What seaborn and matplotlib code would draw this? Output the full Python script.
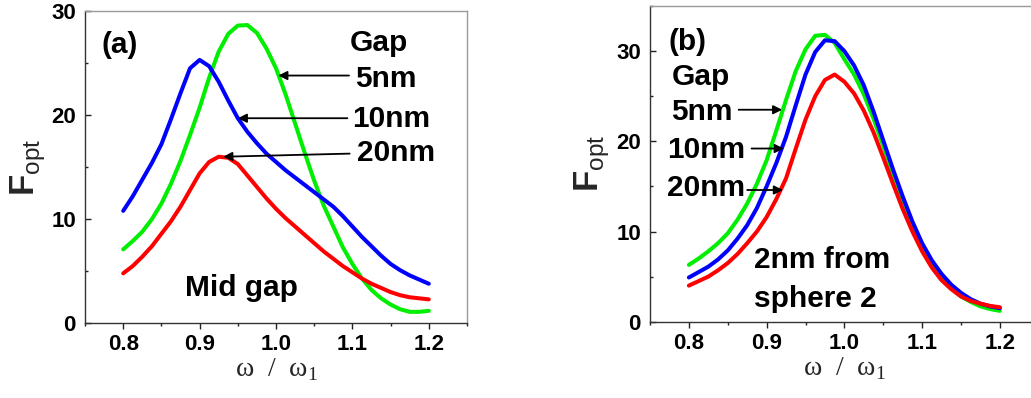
import numpy as np
import pandas as pd
import matplotlib
matplotlib.use("Agg")
import matplotlib.pyplot as plt
from matplotlib.ticker import MultipleLocator, FormatStrFormatter
import seaborn as sns

# ---------------- data ----------------
gaps = ["5nm", "10nm", "20nm"]

# omega / omega_1 sample positions (read every 0.0125)
w_grid = [0.8000, 0.8125, 0.8250, 0.8375, 0.8500, 0.8625, 0.8750, 0.8875,
          0.9000, 0.9125, 0.9250, 0.9375, 0.9500, 0.9625, 0.9750, 0.9875,
          1.0000, 1.0125, 1.0250, 1.0375, 1.0500, 1.0625, 1.0750, 1.0875,
          1.1000, 1.1125, 1.1250, 1.1375, 1.1500, 1.1625, 1.1750, 1.1875,
          1.2000]

# Panel (a): mid gap
Fa_5 = [7.1, 7.9, 8.8, 10.0, 11.5, 13.4, 15.6, 18.1,
        20.7, 23.6, 26.1, 27.8, 28.6, 28.65, 27.9, 26.4,
        24.5, 22.0, 19.2, 16.4, 13.7, 11.3, 9.3, 7.3,
        5.7, 4.3, 3.2, 2.4, 1.8, 1.35, 1.1, 1.1,
        1.2]
Fa_10 = [10.8, 12.2, 13.8, 15.4, 17.2, 19.6, 22.1, 24.5,
         25.3, 24.7, 23.2, 21.4, 19.7, 18.4, 17.3, 16.3,
         15.5, 14.7, 14.0, 13.3, 12.6, 11.9, 11.2, 10.3,
         9.3, 8.3, 7.4, 6.5, 5.7, 5.1, 4.6, 4.2,
         3.8]
Fa_20 = [4.8, 5.5, 6.4, 7.4, 8.6, 9.8, 11.2, 12.8,
         14.4, 15.5, 16.0, 15.9, 15.3, 14.2, 13.1, 12.0,
         11.0, 10.1, 9.3, 8.5, 7.7, 6.9, 6.2, 5.5,
         4.9, 4.3, 3.8, 3.4, 3.0, 2.7, 2.5, 2.4,
         2.3]

# Panel (b): 2nm from sphere 2
Fb_5 = [6.3, 7.0, 7.8, 8.7, 9.8, 11.3, 13.1, 15.3,
        17.9, 21.2, 24.6, 27.8, 30.2, 31.7, 31.8, 30.9,
        29.1, 27.4, 25.2, 22.5, 19.5, 16.3, 13.3, 10.5,
        8.1, 6.3, 4.8, 3.7, 2.8, 2.2, 1.7, 1.4,
        1.2]
Fb_10 = [4.9, 5.5, 6.1, 6.9, 7.9, 9.2, 10.7, 12.6,
         15.0, 17.6, 20.5, 24.0, 27.4, 29.9, 31.2, 31.1,
         30.0, 28.4, 26.2, 23.3, 20.1, 16.9, 13.9, 11.1,
         8.7, 6.8, 5.3, 4.1, 3.2, 2.5, 2.0, 1.7,
         1.5]
Fb_20 = [4.0, 4.5, 5.0, 5.7, 6.5, 7.5, 8.7, 10.0,
         11.6, 13.6, 15.9, 19.2, 22.4, 25.0, 26.8, 27.4,
         26.6, 25.3, 23.4, 21.0, 18.2, 15.3, 12.5, 10.0,
         7.8, 6.0, 4.6, 3.6, 2.8, 2.3, 2.0, 1.75,
         1.6]

x_ticks = [0.8, 0.9, 1.0, 1.1, 1.2]

colors = {"5nm": "#00ee00", "10nm": "#0000ff", "20nm": "#ff0000"}


def frame(series):
    parts = []
    for g, y in zip(gaps, series):
        parts.append(pd.DataFrame({"w": w_grid, "F": y, "gap": g}))
    return pd.concat(parts, ignore_index=True)


df_a = frame([Fa_5, Fa_10, Fa_20])
df_b = frame([Fb_5, Fb_10, Fb_20])

# ---------------- style ----------------
sns.set_style("ticks")
plt.rcParams["font.family"] = ["Liberation Sans", "DejaVu Sans"]
plt.rcParams["mathtext.fontset"] = "custom"
plt.rcParams["mathtext.rm"] = "Liberation Sans"
plt.rcParams["mathtext.bf"] = "Liberation Sans:bold"

W, H = 1031, 398
fig = plt.figure(figsize=(W / 100, H / 100), dpi=100)
ax_a = fig.add_axes([85 / W, (H - 323.3) / H, 382 / W, 312.3 / H])
ax_b = fig.add_axes([650 / W, (H - 321.7) / H, 388.75 / W, 315.7 / H])

TXT = dict(fontsize=21.5, fontweight="bold", color="black")
ARROW = dict(arrowstyle="-|>", color="black", lw=1.3, mutation_scale=13,
             shrinkA=0, shrinkB=0)


def style_axes(ax, data, ylim, right_visible=True):
    sns.lineplot(data=data, x="w", y="F", hue="gap",
                 hue_order=gaps, palette=colors, sort=False, estimator=None,
                 linewidth=2.9, legend=False, ax=ax,
                 solid_joinstyle="round", solid_capstyle="round")
    ax.set_xlim(0.75, 1.25)
    ax.set_ylim(*ylim)
    ax.set_xticks(x_ticks)
    ax.xaxis.set_minor_locator(MultipleLocator(0.05))
    ax.yaxis.set_major_locator(MultipleLocator(10))
    ax.yaxis.set_minor_locator(MultipleLocator(5))
    ax.xaxis.set_major_formatter(FormatStrFormatter("%.1f"))
    ax.tick_params(axis="x", which="major", direction="out", length=4.5,
                   width=1, pad=3.5, labelsize=16, colors="#222222",
                   labelcolor="black")
    ax.tick_params(axis="x", which="minor", direction="out", length=2.5,
                   width=1, colors="#222222")
    ax.tick_params(axis="y", which="major", direction="in", length=4.5,
                   width=1, pad=6.5, labelsize=16, colors="#222222",
                   labelcolor="black")
    ax.tick_params(axis="y", which="minor", direction="in", length=2.5,
                   width=1, colors="#222222")
    for lab in ax.get_xticklabels() + ax.get_yticklabels():
        lab.set_fontweight("bold")
    ax.spines["left"].set_color("#333333")
    ax.spines["bottom"].set_color("#333333")
    ax.spines["top"].set_color("#9a9a9a")
    ax.spines["right"].set_color("#9a9a9a")
    ax.spines["right"].set_visible(right_visible)
    for s in ax.spines.values():
        s.set_linewidth(1)
    ax.set_xlabel("ω  /  ω$_{\\mathregular{1}}$", fontsize=20,
                  fontfamily="Liberation Serif", fontweight="normal")
    ax.set_ylabel(r"F$_{\mathrm{opt}}$", fontsize=25, fontweight="bold")
    ax.xaxis.set_label_coords(0.5, -0.105)
    ax.yaxis.set_label_coords(-0.097, 0.5)


style_axes(ax_a, df_a, (0, 30))
style_axes(ax_b, df_b, (0, 35), right_visible=False)

# ---------------- panel (a) annotations ----------------
ax_a.text(0.771, 26.0, "(a)", ha="left", va="baseline", **TXT)
ax_a.text(1.097, 26.2, "Gap", ha="left", va="baseline", **TXT)
ax_a.text(1.103, 22.7, "5nm", ha="left", va="baseline", **TXT)
ax_a.text(1.100, 18.9, "10nm", ha="left", va="baseline", **TXT)
ax_a.text(1.106, 15.6, "20nm", ha="left", va="baseline", **TXT)
ax_a.text(0.881, 2.6, "Mid gap", ha="left", va="baseline", **TXT)
ax_a.annotate("", xy=(1.003, 23.8), xytext=(1.0956, 23.8), arrowprops=ARROW)
ax_a.annotate("", xy=(0.950, 19.7), xytext=(1.0935, 19.7), arrowprops=ARROW)
ax_a.annotate("", xy=(0.931, 16.0), xytext=(1.0964, 16.3), arrowprops=ARROW)

# ---------------- panel (b) annotations ----------------
ax_b.text(0.774, 30.1, "(b)", ha="left", va="baseline", **TXT)
ax_b.text(0.7786, 26.2, "Gap", ha="left", va="baseline", **TXT)
ax_b.text(0.7765, 22.4, "5nm", ha="left", va="baseline", **TXT)
ax_b.text(0.772, 18.1, "10nm", ha="left", va="baseline", **TXT)
ax_b.text(0.772, 13.9, "20nm", ha="left", va="baseline", **TXT)
ax_b.text(0.8836, 5.9, "2nm from", ha="left", va="baseline", **TXT)
ax_b.text(0.8836, 1.66, "sphere 2", ha="left", va="baseline", **TXT)
ax_b.annotate("", xy=(0.920, 23.5), xytext=(0.864, 23.5), arrowprops=ARROW)
ax_b.annotate("", xy=(0.922, 19.2), xytext=(0.8806, 19.2), arrowprops=ARROW)
ax_b.annotate("", xy=(0.921, 14.6), xytext=(0.875, 14.6), arrowprops=ARROW)

fig.savefig("out.png", dpi=100)
